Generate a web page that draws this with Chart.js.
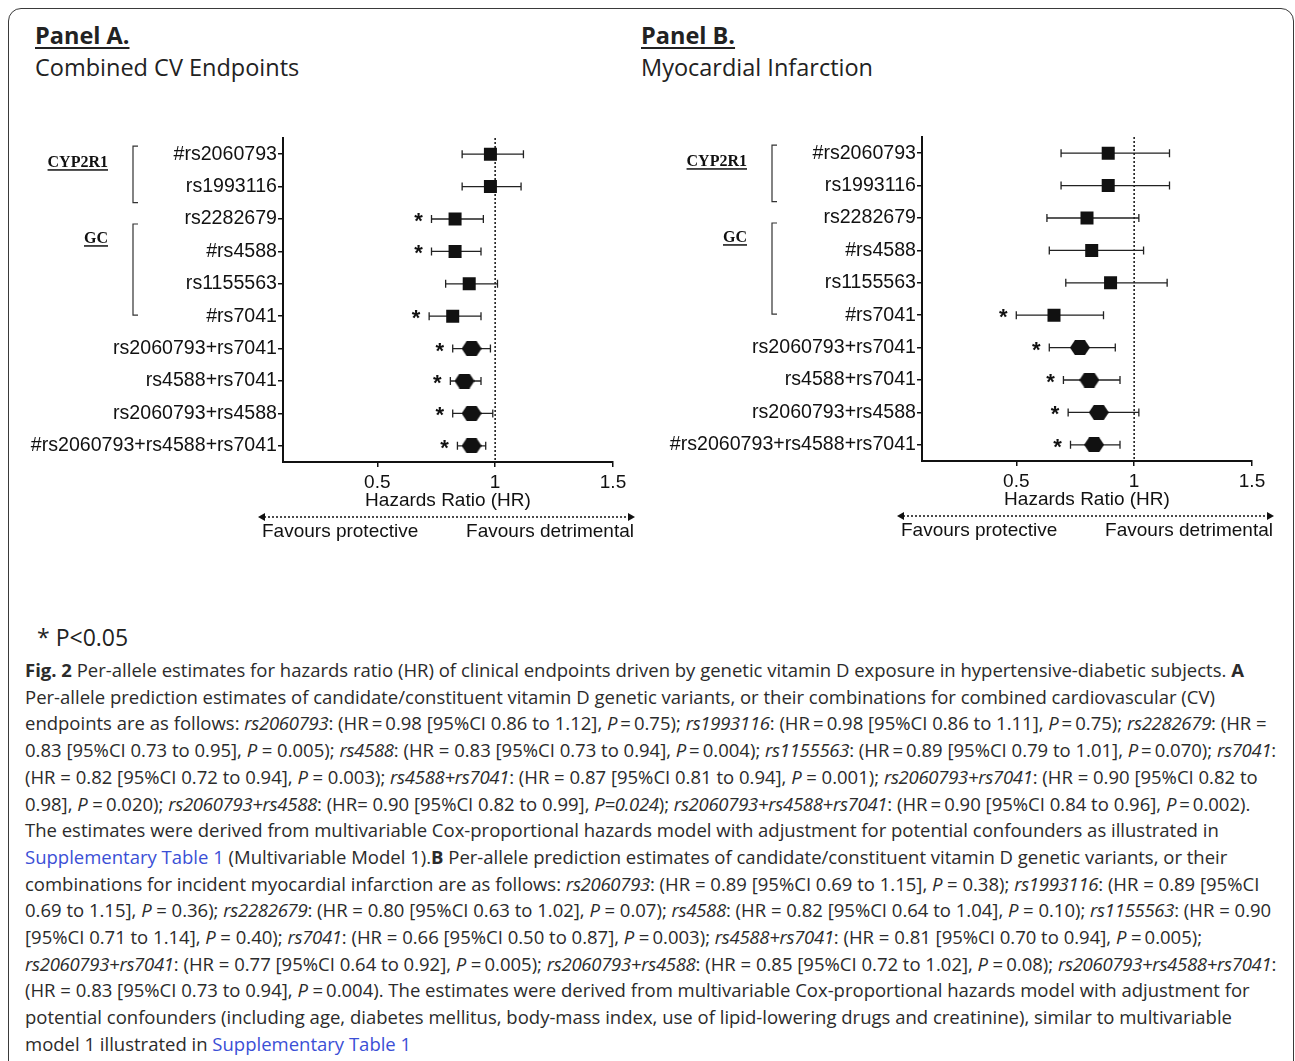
<!DOCTYPE html>
<html lang="en">
<head>
<meta charset="UTF-8" />
<title>Fig. 2 Vitamin D variants and clinical endpoints</title>
<script src="https://cdn.jsdelivr.net/npm/chart.js"></script>
<style>
  body {
    margin: 0;
    width: 1295px;
    height: 1061px;
    overflow: hidden;
    position: relative;
    background: #fff;
    font-family: "Open Sans", sans-serif;
    color: #222;
  }
  .frame {
    position: absolute;
    left: 8px;
    top: 8px;
    width: 1286px;
    height: 1120px;
    box-sizing: border-box;
    border: 1.5px solid #3a3a3a;
    border-radius: 13px;
  }
  .ptitle {
    position: absolute;
    font-size: 23.5px;
    line-height: 30px;
    white-space: nowrap;
  }
  .ptitle b { text-decoration: underline; text-underline-offset: 3px; }
  .chart-box { position: absolute; width: 625px; height: 425px; }
  .pnote { position: absolute; left: 37px; top: 621px; font-size: 23px; line-height: 32px; }
  .caption {
    position: absolute;
    left: 25px;
    top: 657px;
    font-size: 17px;
    line-height: 26.7px;
    color: #2b2b2b;
  }
  .caption div { white-space: nowrap; }
  .caption i { letter-spacing: -0.28px; }
  .caption a { color: #3b4fd6; text-decoration: none; }
</style>
</head>
<body>
<div class="frame"></div>

<div class="ptitle" style="left:35px;top:20px"><b>Panel A.</b></div>
<div class="ptitle" style="left:35px;top:52px">Combined CV Endpoints</div>
<div class="ptitle" style="left:641px;top:20px"><b>Panel B.</b></div>
<div class="ptitle" style="left:641px;top:52px">Myocardial Infarction</div>

<div class="chart-box" style="left:20px;top:125px"><canvas id="chartA"></canvas></div>
<div class="chart-box" style="left:659px;top:124px"><canvas id="chartB"></canvas></div>

<div class="pnote">* P&lt;0.05</div>

<div class="caption" id="caption">
  <div><b>Fig. 2</b> Per-allele estimates for hazards ratio (HR) of clinical endpoints driven by genetic vitamin D exposure in hypertensive-diabetic subjects. <b>A</b></div>
  <div><span id="fitLine">Per-allele prediction estimates of candidate/constituent vitamin D genetic variants, or their combinations for combined cardiovascular (CV)</span></div>
  <div>endpoints are as follows: <i>rs2060793</i>: (HR&thinsp;=&thinsp;0.98 [95%CI 0.86 to 1.12], <i>P</i>&thinsp;=&thinsp;0.75); <i>rs1993116</i>: (HR&thinsp;=&thinsp;0.98 [95%CI 0.86 to 1.11], <i>P</i>&thinsp;=&thinsp;0.75); <i>rs2282679</i>: (HR =</div>
  <div>0.83 [95%CI 0.73 to 0.95], <i>P</i> = 0.005); <i>rs4588</i>: (HR = 0.83 [95%CI 0.73 to 0.94], <i>P</i>&thinsp;=&thinsp;0.004); <i>rs1155563</i>: (HR&thinsp;=&thinsp;0.89 [95%CI 0.79 to 1.01], <i>P</i>&thinsp;=&thinsp;0.070); <i>rs7041</i>:</div>
  <div>(HR = 0.82 [95%CI 0.72 to 0.94], <i>P</i> = 0.003); <i>rs4588+rs7041</i>: (HR = 0.87 [95%CI 0.81 to 0.94], <i>P</i> = 0.001); <i>rs2060793+rs7041</i>: (HR = 0.90 [95%CI 0.82 to</div>
  <div>0.98], <i>P</i> =&thinsp;0.020); <i>rs2060793+rs4588</i>: (HR= 0.90 [95%CI 0.82 to 0.99], <i>P=0.024</i>); <i>rs2060793+rs4588+rs7041</i>: (HR&thinsp;=&thinsp;0.90 [95%CI 0.84 to 0.96], <i>P</i>&thinsp;=&thinsp;0.002).</div>
  <div>The estimates were derived from multivariable Cox-proportional hazards model with adjustment for potential confounders as illustrated in</div>
  <div><a>Supplementary Table 1</a> (Multivariable Model 1).<b>B</b> Per-allele prediction estimates of candidate/constituent vitamin D genetic variants, or their</div>
  <div>combinations for incident myocardial infarction are as follows: <i>rs2060793</i>: (HR = 0.89 [95%CI 0.69 to 1.15], <i>P</i> = 0.38); <i>rs1993116</i>: (HR = 0.89 [95%CI</div>
  <div>0.69 to 1.15], <i>P</i> = 0.36); <i>rs2282679</i>: (HR = 0.80 [95%CI 0.63 to 1.02], <i>P</i> = 0.07); <i>rs4588</i>: (HR = 0.82 [95%CI 0.64 to 1.04], <i>P</i> = 0.10); <i>rs1155563</i>: (HR = 0.90</div>
  <div>[95%CI 0.71 to 1.14], <i>P</i> = 0.40); <i>rs7041</i>: (HR = 0.66 [95%CI 0.50 to 0.87], <i>P</i> =&thinsp;0.003); <i>rs4588+rs7041</i>: (HR = 0.81 [95%CI 0.70 to 0.94], <i>P</i> =&thinsp;0.005);</div>
  <div><i>rs2060793+rs7041</i>: (HR = 0.77 [95%CI 0.64 to 0.92], <i>P</i> =&thinsp;0.005); <i>rs2060793+rs4588</i>: (HR = 0.85 [95%CI 0.72 to 1.02], <i>P</i> =&thinsp;0.08); <i>rs2060793+rs4588+rs7041</i>:</div>
  <div>(HR = 0.83 [95%CI 0.73 to 0.94], <i>P</i> =&thinsp;0.004). The estimates were derived from multivariable Cox-proportional hazards model with adjustment for</div>
  <div>potential confounders (including age, diabetes mellitus, body-mass index, use of lipid-lowering drugs and creatinine), similar to multivariable</div>
  <div>model 1 illustrated in <a>Supplementary Table 1</a></div>
</div>

<script>
  // rows, top to bottom
  const snpLabels = [
    "#rs2060793", "rs1993116", "rs2282679", "#rs4588", "rs1155563", "#rs7041",
    "rs2060793+rs7041", "rs4588+rs7041", "rs2060793+rs4588", "#rs2060793+rs4588+rs7041"
  ];
  const xTicks = [0.5, 1, 1.5];

  // Panel A: combined CV endpoints
  const hrA = [0.98, 0.98, 0.83, 0.83, 0.89, 0.82, 0.90, 0.87, 0.90, 0.90];
  const loA = [0.86, 0.86, 0.73, 0.73, 0.79, 0.72, 0.82, 0.81, 0.82, 0.84];
  const hiA = [1.12, 1.11, 0.95, 0.94, 1.01, 0.94, 0.98, 0.94, 0.99, 0.96];
  const starA = [0, 0, 1, 1, 0, 1, 1, 1, 1, 1];

  // Panel B: myocardial infarction
  const hrB = [0.89, 0.89, 0.80, 0.82, 0.90, 0.66, 0.77, 0.81, 0.85, 0.83];
  const loB = [0.69, 0.69, 0.63, 0.64, 0.71, 0.50, 0.64, 0.70, 0.72, 0.73];
  const hiB = [1.15, 1.15, 1.02, 1.04, 1.14, 0.87, 0.92, 0.94, 1.02, 0.94];
  const starB = [0, 0, 0, 0, 0, 1, 1, 1, 1, 1];

  // gene groups: [name, first row, last row]
  const genes = [["CYP2R1", 0, 1], ["GC", 2, 5]];

  const INK = "#111";
  const SANS = "'Liberation Sans', Arial, sans-serif";

  function hexMarker(w, h) {
    const c = document.createElement("canvas");
    c.width = w;
    c.height = h;
    const g = c.getContext("2d");
    const k = 5;
    g.beginPath();
    g.moveTo(0, h / 2);
    g.lineTo(k, 0);
    g.lineTo(w - k, 0);
    g.lineTo(w, h / 2);
    g.lineTo(w - k, h);
    g.lineTo(k, h);
    g.closePath();
    g.fillStyle = INK;
    g.fill();
    return c;
  }
  const hex = hexMarker(20, 15);

  function forestPlugin(lo, hi, stars) {
    return {
      id: "forest",
      beforeDatasetsDraw(chart) {
        const { ctx, chartArea, scales } = chart;
        const x = scales.x, y = scales.y;
        ctx.save();
        // reference line at HR = 1
        ctx.strokeStyle = INK;
        ctx.lineWidth = 1.5;
        ctx.setLineDash([2, 2]);
        ctx.beginPath();
        ctx.moveTo(x.getPixelForValue(1), chartArea.top);
        ctx.lineTo(x.getPixelForValue(1), chartArea.bottom);
        ctx.stroke();
        ctx.setLineDash([]);
        // confidence intervals
        ctx.lineWidth = 1.3;
        ctx.strokeStyle = "#222";
        snpLabels.forEach((lab, i) => {
          const py = y.getPixelForValue(i);
          const a = x.getPixelForValue(lo[i]);
          const b = x.getPixelForValue(hi[i]);
          ctx.beginPath();
          ctx.moveTo(a, py); ctx.lineTo(b, py);
          ctx.moveTo(a, py - 4); ctx.lineTo(a, py + 4);
          ctx.moveTo(b, py - 4); ctx.lineTo(b, py + 4);
          ctx.stroke();
        });
        ctx.restore();
      },
      afterDraw(chart) {
        const { ctx, chartArea, scales } = chart;
        const x = scales.x, y = scales.y;
        const L = chartArea.left, R = chartArea.right, B = chartArea.bottom;
        ctx.save();
        ctx.fillStyle = INK;

        // significance stars
        ctx.font = "bold 22px " + SANS;
        ctx.textAlign = "center";
        ctx.textBaseline = "middle";
        stars.forEach((s, i) => {
          if (s) ctx.fillText("*", x.getPixelForValue(lo[i]) - 13, y.getPixelForValue(i) + 3);
        });

        // gene brackets
        ctx.strokeStyle = "#333";
        ctx.lineWidth = 1.2;
        ctx.font = "bold 16px 'Liberation Serif', 'Times New Roman', serif";
        ctx.textAlign = "right";
        ctx.textBaseline = "alphabetic";
        genes.forEach(([name, r0, r1], gi) => {
          const bx = L - 150;
          const t = gi === 0 ? y.getPixelForValue(r0) - 8 : y.getPixelForValue(r0) + 5;
          const bt = gi === 0 ? y.getPixelForValue(r1) + 16 : y.getPixelForValue(r1) - 1;
          ctx.beginPath();
          ctx.moveTo(bx + 5, t); ctx.lineTo(bx, t); ctx.lineTo(bx, bt); ctx.lineTo(bx + 5, bt);
          ctx.stroke();
          const ty = gi === 0 ? y.getPixelForValue(r0) + 13 : (y.getPixelForValue(r0) + y.getPixelForValue(r0 + 1)) / 2 + 8;
          const tx = L - 175;
          ctx.fillText(name, tx, ty);
          const w = ctx.measureText(name).width;
          ctx.fillRect(tx - w, ty + 2, w, 1.5);
        });

        // favours arrow
        const ay = B + 55;
        const x0 = L - 25, x1 = R + 22;
        ctx.strokeStyle = INK;
        ctx.lineWidth = 1.5;
        ctx.setLineDash([2, 2]);
        ctx.beginPath();
        ctx.moveTo(x0 + 6, ay); ctx.lineTo(x1 - 6, ay);
        ctx.stroke();
        ctx.setLineDash([]);
        ctx.beginPath();
        ctx.moveTo(x0, ay); ctx.lineTo(x0 + 7, ay - 4); ctx.lineTo(x0 + 7, ay + 4); ctx.closePath();
        ctx.moveTo(x1, ay); ctx.lineTo(x1 - 7, ay - 4); ctx.lineTo(x1 - 7, ay + 4); ctx.closePath();
        ctx.fill();

        ctx.font = "19px " + SANS;
        ctx.textBaseline = "middle";
        ctx.textAlign = "left";
        ctx.fillText("Favours protective", L - 21, B + 70);
        ctx.textAlign = "right";
        ctx.fillText("Favours detrimental", R + 21, B + 70);
        ctx.restore();
      }
    };
  }

  function makePanel(id, hr, lo, hi, stars) {
    return new Chart(document.getElementById(id), {
      type: "scatter",
      data: {
        labels: snpLabels,
        datasets: [{
          data: snpLabels.map((lab, i) => ({ x: hr[i], y: lab })),
          pointStyle: snpLabels.map(lab => lab.includes("+") ? hex : "rect"),
          pointRadius: 9.2,
          pointHoverRadius: 9.2,
          backgroundColor: INK,
          borderColor: INK,
          borderWidth: 0
        }]
      },
      options: {
        responsive: true,
        maintainAspectRatio: false,
        animation: false,
        events: [],
        layout: { padding: { left: 0, right: 32, top: 13, bottom: 38 } },
        plugins: { legend: { display: false }, tooltip: { enabled: false } },
        scales: {
          x: {
            type: "linear",
            min: 0.1,
            max: 1.5,
            afterBuildTicks: s => { s.ticks = xTicks.map(v => ({ value: v })); },
            afterFit: s => { s.height = 50; },
            ticks: { color: INK, padding: 4, font: { family: SANS, size: 19 }, callback: v => String(v) },
            grid: { drawOnChartArea: false, drawTicks: true, tickLength: 5, color: INK, lineWidth: 1.5 },
            border: { display: true, color: INK, width: 2 },
            title: {
              display: true,
              text: "Hazards Ratio (HR)",
              color: INK,
              font: { family: SANS, size: 19 },
              padding: { top: 0, bottom: 0 }
            }
          },
          y: {
            type: "category",
            labels: snpLabels,
            offset: true,
            afterFit: s => { s.width = 263; },
            ticks: { color: INK, padding: 1, font: { family: SANS, size: 19.6 } },
            grid: { drawOnChartArea: false, drawTicks: true, tickLength: 5, color: INK, lineWidth: 1.5 },
            border: { display: true, color: INK, width: 2 }
          }
        }
      },
      plugins: [forestPlugin(lo, hi, stars)]
    });
  }

  makePanel("chartA", hrA, loA, hiA, starA);
  makePanel("chartB", hrB, loB, hiB, starB);

  // size the caption so its lines span the same width as the printed figure
  const fit = document.getElementById("fitLine");
  const cap = document.getElementById("caption");
  const w = fit.getBoundingClientRect().width;
  cap.style.fontSize = (17 * 1190 / w).toFixed(2) + "px";
</script>
</body>
</html>
